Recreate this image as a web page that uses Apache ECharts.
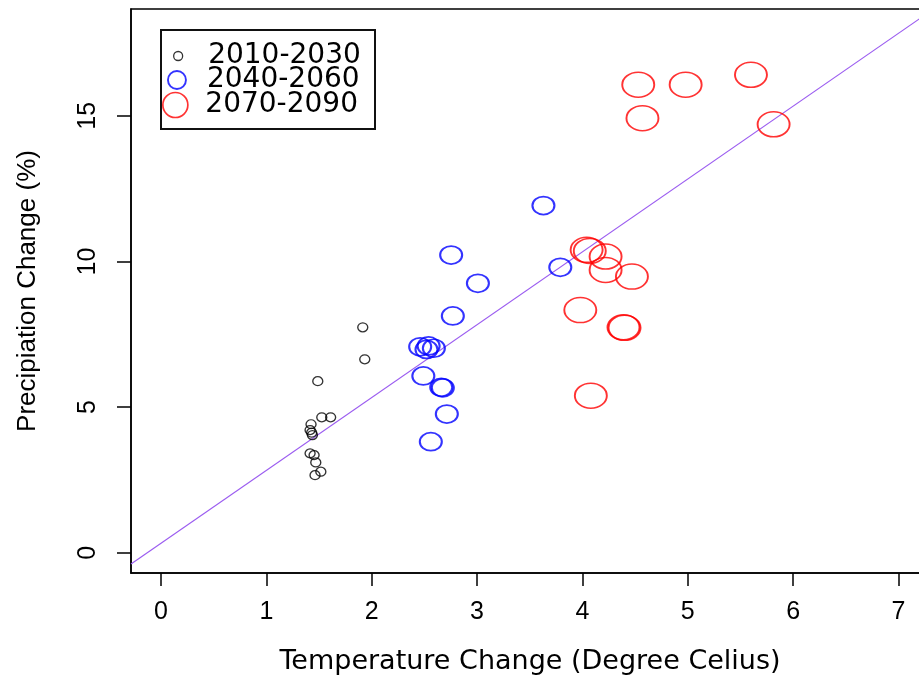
<!DOCTYPE html>
<html>
<head>
<meta charset="utf-8">
<script src="https://cdn.jsdelivr.net/npm/echarts@6/dist/echarts.min.js"></script>
<style>
html,body{margin:0;padding:0;background:#fff;}
#chart{width:919px;height:677px;}
</style>
</head>
<body>
<div id="chart"></div>
<script>
// ---- data ----
const seriesNames = ['2010-2030', '2040-2060', '2070-2090'];

const tempA = [1.915, 1.934, 1.488, 1.526, 1.61, 1.424, 1.415, 1.437, 1.43, 1.415, 1.453, 1.469, 1.517, 1.462];
const precA = [7.74, 6.64, 5.89, 4.65, 4.65, 4.41, 4.21, 4.04, 4.12, 3.41, 3.35, 3.10, 2.78, 2.66];

const tempB = [3.63, 2.754, 3.008, 3.79, 2.77, 2.46, 2.54, 2.59, 2.52, 2.49, 2.66, 2.675, 2.713, 2.561];
const precB = [11.92, 10.22, 9.25, 9.80, 8.13, 7.07, 7.10, 7.02, 6.98, 6.07, 5.68, 5.66, 4.76, 3.81];

const tempC = [4.04, 4.07, 4.22, 4.22, 4.47, 3.98, 4.39, 4.40, 4.08, 4.53, 4.98, 5.60, 4.57, 5.815];
const precC = [10.40, 10.36, 10.17, 9.71, 9.48, 8.33, 7.74, 7.72, 5.39, 16.07, 16.07, 16.41, 14.92, 14.71];

// fitted line endpoints (read at the plot edges)
const fitTemp = [-0.285, 7.29];
const fitPrec = [-0.39, 18.56];

const xTicks = [0, 1, 2, 3, 4, 5, 6, 7];
const yTicks = [0, 5, 10, 15];

const xTitle = 'Temperature Change (Degree Celius)';
const yTitle = 'Precipiation Change (%)';

// ---- chart ----
function pairs(xs, ys) { return xs.map((x, i) => [x, ys[i]]); }

const colors = ['#000000', '#0000ff', '#ff0000'];
const sizes = [[10, 9], [22, 18], [32, 25]];
const borders = [1.3, 1.9, 1.7];
const rowY = [56, 80, 105];
const textPad = [20, 14, 9];

const axisLineStyle = { color: '#000', width: 1.5 };
const tickFont = { fontSize: 25, fontFamily: 'Liberation Sans', color: '#000' };

const chart = echarts.init(document.getElementById('chart'), null, { renderer: 'canvas' });

const scatterSeries = [pairs(tempA, precA), pairs(tempB, precB), pairs(tempC, precC)].map((d, i) => ({
  name: seriesNames[i],
  type: 'scatter',
  data: d,
  symbol: 'circle',
  symbolSize: sizes[i],
  itemStyle: { color: 'transparent', borderColor: colors[i], borderWidth: borders[i] },
  emphasis: { disabled: true },
  z: 3
}));

const legends = seriesNames.map((n, i) => ({
  data: [{ name: n, icon: 'circle', itemStyle: { color: 'transparent', borderColor: colors[i], borderWidth: borders[i] } }],
  left: 178 - sizes[i][0] / 2,
  top: rowY[i] - 15,
  padding: 0,
  itemWidth: sizes[i][0],
  itemHeight: sizes[i][1],
  symbolKeepAspect: false,
  selectedMode: false,
  textStyle: { fontSize: 28, fontFamily: 'DejaVu Sans', color: '#000', lineHeight: 30, padding: [0, 0, 0, textPad[i]] }
}));

chart.setOption({
  animation: false,
  backgroundColor: '#fff',
  grid: { left: 131, top: 9, right: -10, bottom: 104, show: true, borderColor: '#000', borderWidth: 1.5, containLabel: false, outerBoundsMode: 'none' },
  legend: legends,
  graphic: [{
    type: 'rect',
    shape: { x: 161, y: 30, width: 214, height: 99 },
    style: { fill: 'transparent', stroke: '#111', lineWidth: 2 },
    z: 10
  }],
  xAxis: {
    type: 'value',
    min: -0.285,
    max: 7.29,
    splitLine: { show: false },
    axisLine: { onZero: false, lineStyle: axisLineStyle },
    axisTick: { length: 13, customValues: xTicks, lineStyle: axisLineStyle },
    axisLabel: Object.assign({ customValues: xTicks, margin: 27 }, tickFont),
    name: xTitle,
    nameLocation: 'middle',
    nameGap: 75,
    nameTextStyle: { fontSize: 27, fontFamily: 'DejaVu Sans', color: '#000' }
  },
  yAxis: {
    type: 'value',
    min: -0.698,
    max: 18.67,
    splitLine: { show: false },
    axisLine: { onZero: false, lineStyle: axisLineStyle },
    axisTick: { length: 14, customValues: yTicks, lineStyle: axisLineStyle },
    axisLabel: Object.assign({ customValues: yTicks, margin: 30, rotate: 90 }, tickFont),
    name: yTitle,
    nameLocation: 'middle',
    nameRotate: 90,
    nameGap: 90,
    nameTextStyle: { fontSize: 26, fontFamily: 'Liberation Sans', color: '#000' }
  },
  series: [
    {
      name: 'fit',
      type: 'line',
      data: pairs(fitTemp, fitPrec),
      showSymbol: false,
      lineStyle: { color: '#9b5cf0', width: 1.2 },
      emphasis: { disabled: true },
      silent: true,
      z: 2
    }
  ].concat(scatterSeries)
});
</script>
</body>
</html>
